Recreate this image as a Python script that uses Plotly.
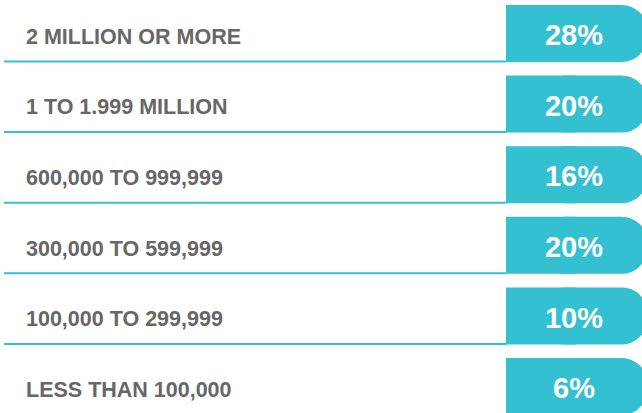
import plotly.graph_objects as go

categories = ["2 MILLION OR MORE", "1 TO 1.999 MILLION", "600,000 TO 999,999",
              "300,000 TO 599,999", "100,000 TO 299,999", "LESS THAN 100,000"]
shares = [28, 20, 16, 20, 10, 6]
share_labels = [f"{v}%" for v in shares]

TEAL = "#33C1D2"
GREY = "#676767"
W, H = 642, 413
pitch = 70.6
box_h = 57
first_center = 33.5
box_left = 506
box_right = 647
line_left = 4

rows = list(range(len(categories)))
bw = box_h / pitch
y0 = -first_center / pitch
y1 = (H - first_center) / pitch

fig = go.Figure()

# underline rules
lx, ly = [], []
for i in rows:
    lx += [line_left, box_left, None]
    ly += [i + bw / 2 - 0.5 / pitch, i + bw / 2 - 0.5 / pitch, None]
fig.add_trace(go.Scatter(x=lx, y=ly, mode="lines", line=dict(color=TEAL, width=2),
                         hoverinfo="skip", showlegend=False))

# rounded right part of the boxes
fig.add_trace(go.Bar(y=rows, x=[-(box_right - 540)] * len(rows), base=box_right,
                     orientation="h", width=bw,
                     marker=dict(color=TEAL, line=dict(width=0), cornerradius=25),
                     hoverinfo="skip", showlegend=False))
# square left part of the boxes
fig.add_trace(go.Bar(y=rows, x=[70] * len(rows), base=box_left,
                     orientation="h", width=bw,
                     marker=dict(color=TEAL, line=dict(width=0), cornerradius=0),
                     hoverinfo="skip", showlegend=False))

fig.add_trace(go.Scatter(x=[(box_left + W) / 2] * len(rows), y=[i + 4.5 / pitch for i in rows],
                         mode="text", text=share_labels, textposition="middle center",
                         textfont=dict(family="Liberation Sans", size=29, color="white", weight="bold"),
                         hoverinfo="skip", showlegend=False))

fig.add_trace(go.Scatter(x=[26] * len(rows), y=[i + 5 / pitch for i in rows],
                         mode="text", text=categories, textposition="middle right",
                         textfont=dict(family="Liberation Sans", size=21.5, color=GREY, weight="bold"),
                         hoverinfo="skip", showlegend=False))

fig.update_layout(width=W, height=H, margin=dict(l=0, r=0, t=0, b=0),
                  paper_bgcolor="white", plot_bgcolor="white", barmode="overlay",
                  hovermode=False,
                  xaxis=dict(range=[0, W], visible=False, fixedrange=True),
                  yaxis=dict(range=[y1, y0], visible=False, fixedrange=True))

fig.write_html("out.html", config={"displayModeBar": False},
               post_script="document.body.style.margin='0';document.body.style.overflow='hidden';")
